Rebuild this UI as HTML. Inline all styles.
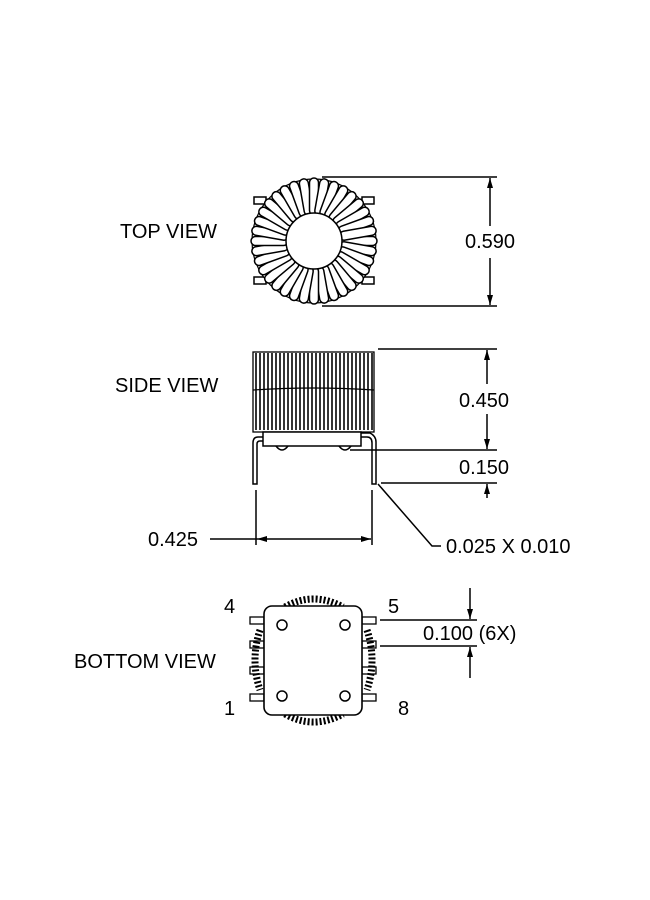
<!DOCTYPE html>
<html><head><meta charset="utf-8"><style>
html,body{margin:0;padding:0;background:#fff;}
svg{display:block;}
text{font-family:"Liberation Sans",Arial,sans-serif;font-size:20px;fill:#000;}
</style></head><body>
<svg width="650" height="900" viewBox="0 0 650 900" xmlns="http://www.w3.org/2000/svg">
<defs>
<marker id="ah" viewBox="0 0 10 10" refX="10" refY="5" markerWidth="10" markerHeight="10" markerUnits="userSpaceOnUse" orient="auto-start-reverse"><path d="M0,2 L10,5 L0,8 z" fill="#000"/></marker>
</defs>
<g stroke="#000" fill="none" stroke-width="1.5">
<!-- TOP VIEW -->
<rect x="254" y="197" width="12" height="7" fill="#fff"/>
<rect x="254" y="277" width="12" height="7" fill="#fff"/>
<rect x="362" y="197" width="12" height="7" fill="#fff"/>
<rect x="362" y="277" width="12" height="7" fill="#fff"/>
<circle cx="314" cy="241" r="62" fill="#fff" stroke-width="1.2"/>
<g id="loops" stroke-width="1.5" fill="#fff">
</g>
<circle cx="314" cy="241" r="28" fill="#fff" stroke-width="1.5"/>
<line x1="322" y1="177" x2="497" y2="177"/>
<line x1="322" y1="306" x2="497" y2="306"/>
<line x1="490" y1="178" x2="490" y2="226" marker-start="url(#ah)"/>
<line x1="490" y1="258" x2="490" y2="305" marker-end="url(#ah)"/>

<!-- SIDE VIEW -->
<rect x="253" y="352" width="121" height="80" fill="#fff" stroke-width="1.3"/>
<path d="M253,390 q60,-4 121,0" stroke-width="1.2"/>
<rect x="263" y="432" width="98" height="14" fill="#fff"/>
<path d="M276,446 q6,8 12,0"/>
<path d="M339,446 q6,8 12,0"/>
<path d="M263,437 h-5 q-5,0 -5,6 v41 h4 v-40 q0,-3 3,-3 h3"/>
<path d="M361,437 h6 q5,0 5,6 v41 h4 v-42 q0,-6 -6,-9 h-9"/>
<line x1="378" y1="349" x2="497" y2="349"/>
<line x1="350" y1="450" x2="497" y2="450"/>
<line x1="381" y1="483" x2="497" y2="483"/>
<line x1="487" y1="350" x2="487" y2="384" marker-start="url(#ah)"/>
<line x1="487" y1="414" x2="487" y2="449" marker-end="url(#ah)"/>
<line x1="487" y1="498" x2="487" y2="484" marker-end="url(#ah)"/>
<line x1="256" y1="490" x2="256" y2="545"/>
<line x1="372" y1="490" x2="372" y2="545"/>
<line x1="210" y1="539" x2="257" y2="539"/>
<line x1="257" y1="539" x2="371" y2="539" marker-start="url(#ah)" marker-end="url(#ah)"/>
<path d="M378,484 L432,546 H441"/>

<!-- BOTTOM VIEW -->
<g fill="#fff" stroke-width="1.3">
<rect x="250" y="617" width="14" height="7"/><rect x="250" y="641" width="14" height="7"/>
<rect x="250" y="667" width="14" height="7"/><rect x="250" y="694" width="14" height="7"/>
<rect x="362" y="617" width="14" height="7"/><rect x="362" y="641" width="14" height="7"/>
<rect x="362" y="667" width="14" height="7"/><rect x="362" y="694" width="14" height="7"/>
</g>
<path d="M285,607 q28,-16 58,0" stroke-width="7" stroke-dasharray="2 2"/>
<path d="M285,714 q28,16 58,0" stroke-width="7" stroke-dasharray="2 2"/>
<path d="M260,630 q-10,30 0,60" stroke-width="7" stroke-dasharray="2 2"/>
<path d="M367,630 q10,30 0,60" stroke-width="7" stroke-dasharray="2 2"/>
<rect x="264" y="606" width="98" height="109" rx="8" fill="#fff" stroke-width="1.6"/>
<circle cx="282" cy="625" r="5"/><circle cx="345" cy="625" r="5"/>
<circle cx="282" cy="696" r="5"/><circle cx="345" cy="696" r="5"/>
<line x1="380" y1="620" x2="477" y2="620"/>
<line x1="380" y1="646" x2="477" y2="646"/>
<line x1="470" y1="588" x2="470" y2="619" marker-end="url(#ah)"/>
<line x1="470" y1="678" x2="470" y2="647" marker-end="url(#ah)"/>
</g>
<text x="120" y="238">TOP VIEW</text>
<text x="115" y="392">SIDE VIEW</text>
<text x="74" y="668">BOTTOM VIEW</text>
<text x="465" y="248">0.590</text>
<text x="459" y="407">0.450</text>
<text x="459" y="474">0.150</text>
<text x="148" y="546">0.425</text>
<text x="446" y="553">0.025 X 0.010</text>
<text x="423" y="640">0.100 (6X)</text>
<text x="224" y="613">4</text>
<text x="388" y="613">5</text>
<text x="224" y="715">1</text>
<text x="398" y="715">8</text>
<script>
(function(){
var g=document.getElementById('loops'),ns='http://www.w3.org/2000/svg';
for(var i=0;i<36;i++){var a=i*10;var r=document.createElementNS(ns,'rect');
r.setAttribute('x',314+26);r.setAttribute('y',241-4.5);r.setAttribute('width',37);r.setAttribute('height',9);
r.setAttribute('rx',4.5);r.setAttribute('transform','rotate('+a+' 314 241)');g.appendChild(r);}
var s=document.querySelector('svg');
for(var x=256;x<374;x+=4){var l=document.createElementNS(ns,'line');
l.setAttribute('x1',x);l.setAttribute('x2',x);l.setAttribute('y1',353);l.setAttribute('y2',430);
l.setAttribute('stroke','#000');l.setAttribute('stroke-width','1.6');s.appendChild(l);}
})();
</script>
</svg>
</body></html>
